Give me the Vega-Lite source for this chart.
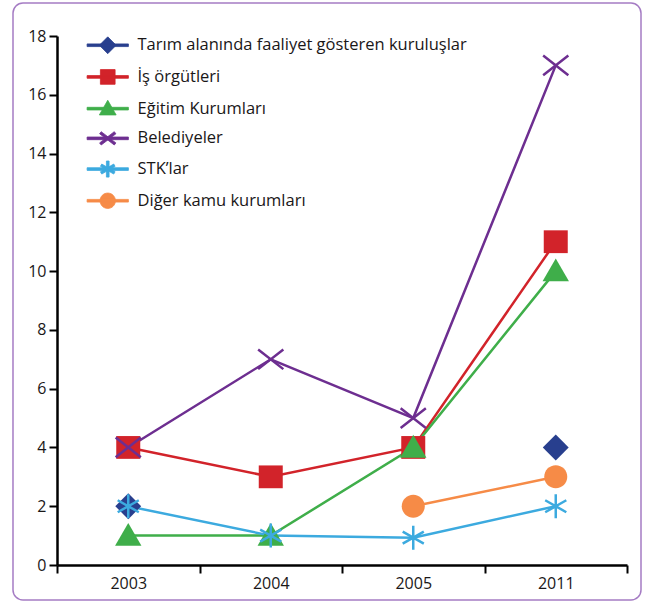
{
  "$schema": "https://vega.github.io/schema/vega-lite/v6.json",
  "width": 628,
  "height": 597,
  "autosize": "none",
  "padding": {"left": 13, "top": 3, "right": 9, "bottom": 3},
  "background": "white",
  "data": {
    "values": [
      {"series": "Tarım alanında faaliyet gösteren kuruluşlar", "year": "2003", "value": 2},
      {"series": "Tarım alanında faaliyet gösteren kuruluşlar", "year": "2004", "value": null},
      {"series": "Tarım alanında faaliyet gösteren kuruluşlar", "year": "2005", "value": null},
      {"series": "Tarım alanında faaliyet gösteren kuruluşlar", "year": "2011", "value": 4},
      {"series": "İş örgütleri", "year": "2003", "value": 4},
      {"series": "İş örgütleri", "year": "2004", "value": 3},
      {"series": "İş örgütleri", "year": "2005", "value": 4},
      {"series": "İş örgütleri", "year": "2011", "value": 11},
      {"series": "Eğitim Kurumları", "year": "2003", "value": 1},
      {"series": "Eğitim Kurumları", "year": "2004", "value": 1},
      {"series": "Eğitim Kurumları", "year": "2005", "value": 4},
      {"series": "Eğitim Kurumları", "year": "2011", "value": 10},
      {"series": "Belediyeler", "year": "2003", "value": 4},
      {"series": "Belediyeler", "year": "2004", "value": 7},
      {"series": "Belediyeler", "year": "2005", "value": 5},
      {"series": "Belediyeler", "year": "2011", "value": 17},
      {"series": "STK’lar", "year": "2003", "value": 2},
      {"series": "STK’lar", "year": "2004", "value": 1},
      {"series": "STK’lar", "year": "2005", "value": 0.93},
      {"series": "STK’lar", "year": "2011", "value": 2},
      {"series": "Diğer kamu kurumları", "year": "2005", "value": 2},
      {"series": "Diğer kamu kurumları", "year": "2011", "value": 3}
    ]
  },
  "encoding": {
    "x": {
      "field": "year",
      "type": "ordinal",
      "bandPosition": 0.5,
      "scale": {"type": "band", "domain": ["2003", "2004", "2005", "2011"], "range": [44, 614], "paddingInner": 0, "paddingOuter": 0},
      "axis": {
        "title": null, "labelAngle": 0, "tickBand": "extent", "offset": -35, "grid": false,
        "domainColor": "#000000", "domainWidth": 2.5, "tickColor": "#000000", "tickWidth": 2, "tickSize": 8,
        "labelPadding": 2, "labelFontSize": 16, "labelColor": "#1A1718", "labelFont": "Open Sans"
      }
    },
    "y": {
      "field": "value",
      "type": "quantitative",
      "scale": {"domain": [0, 18], "range": [562, 33], "nice": false},
      "axis": {
        "title": null, "values": [0, 2, 4, 6, 8, 10, 12, 14, 16, 18], "offset": -44, "grid": false,
        "domainColor": "#000000", "domainWidth": 2.5, "tickColor": "#000000", "tickWidth": 2, "tickSize": 8,
        "labelPadding": 3, "labelFontSize": 16, "labelColor": "#1A1718", "labelFont": "Open Sans"
      }
    },
    "color": {
      "field": "series",
      "type": "nominal",
      "scale": {
        "domain": ["Tarım alanında faaliyet gösteren kuruluşlar", "İş örgütleri", "Eğitim Kurumları", "Belediyeler", "STK’lar", "Diğer kamu kurumları"],
        "range": ["#283F8E", "#D2232A", "#3FAE4A", "#6D2E90", "#3CAADF", "#F68B47"]
      },
      "legend": {"title": null, "orient": "none", "legendX": 86.5, "legendY": 34}
    }
  },
  "layer": [
    {"mark": {"type": "line", "strokeWidth": 2.5}},
    {
      "transform": [{"filter": {"field": "series", "equal": "Tarım alanında faaliyet gösteren kuruluşlar"}}],
      "mark": {"type": "point", "filled": true, "opacity": 1, "size": 576, "strokeWidth": 0, "shape": "M0,-1.08L1.08,0L0,1.08L-1.08,0Z"}
    },
    {
      "transform": [{"filter": {"field": "series", "equal": "İş örgütleri"}}],
      "mark": {"type": "point", "filled": true, "opacity": 1, "size": 576, "strokeWidth": 0, "shape": "M-1,-0.95H1V0.95H-1Z"}
    },
    {
      "transform": [{"filter": {"field": "series", "equal": "Eğitim Kurumları"}}],
      "mark": {"type": "point", "filled": true, "opacity": 1, "size": 576, "strokeWidth": 0, "shape": "M0,-1.05L1.1,0.85H-1.1Z"}
    },
    {
      "transform": [{"filter": {"field": "series", "equal": "Belediyeler"}}],
      "mark": {"type": "point", "filled": false, "opacity": 1, "size": 576, "strokeWidth": 2.5, "shape": "M-1.05,-0.82L1.05,0.82M-1.05,0.82L1.05,-0.82"}
    },
    {
      "transform": [{"filter": {"field": "series", "equal": "STK’lar"}}],
      "mark": {"type": "point", "filled": false, "opacity": 1, "size": 576, "strokeWidth": 2.5, "shape": "M0,-1V1M-0.88,-0.5L0.88,0.5M-0.88,0.5L0.88,-0.5"}
    },
    {
      "transform": [{"filter": {"field": "series", "equal": "Diğer kamu kurumları"}}],
      "mark": {"type": "point", "filled": true, "opacity": 1, "size": 576, "strokeWidth": 0, "shape": "M0.96,0A0.96,0.96,0,1,1,-0.96,0A0.96,0.96,0,1,1,0.96,0Z"}
    },
    {
      "transform": [{"filter": "false"}],
      "mark": {"type": "point", "filled": true, "opacity": 1, "size": 196},
      "encoding": {
        "shape": {
          "field": "series",
          "type": "nominal",
          "scale": {
            "domain": ["Tarım alanında faaliyet gösteren kuruluşlar", "İş örgütleri", "Eğitim Kurumları", "Belediyeler", "STK’lar", "Diğer kamu kurumları"],
            "range": [
              "M-2.95,-0.19H2.95V0.19H-2.95ZM0,-1.2L1.2,0L0,1.2L-1.2,0Z",
              "M-2.95,-0.19H2.95V0.19H-2.95ZM-1.05,-1.05H1.05V1.05H-1.05Z",
              "M-2.95,-0.19H2.95V0.19H-2.95ZM0,-1.2L1.2,0.9H-1.2Z",
              "M-2.95,-0.19H2.95V0.19H-2.95ZM-0.935,-0.951L1.165,0.649L0.935,0.951L-1.165,-0.649ZM-1.165,0.649L0.935,-0.951L1.165,-0.649L-0.935,0.951Z",
              "M-2.95,-0.19H2.95V0.19H-2.95ZM-0.19,-1.15H0.19V1.15H-0.19ZM-0.855,-0.715L1.045,0.385L0.855,0.715L-1.045,-0.385ZM-1.045,0.385L0.855,-0.715L1.045,-0.385L-0.855,0.715Z",
              "M-2.95,-0.19H2.95V0.19H-2.95ZM1.1,0A1.1,1.1,0,1,1,-1.1,0A1.1,1.1,0,1,1,1.1,0Z"
            ]
          },
          "legend": {"title": null, "orient": "none", "legendX": 86.5, "legendY": 34}
        }
      }
    }
  ],
  "config": {
    "view": {"stroke": "#A57CC4", "strokeWidth": 1.5, "cornerRadius": 10},
    "font": "Open Sans",
    "legend": {
      "orient": "none", "legendX": 86.5, "legendY": 34, "padding": 0, "rowPadding": 11.7,
      "symbolSize": 196, "symbolStrokeWidth": 0.8, "symbolOpacity": 1, "labelFontSize": 16.5, "labelOffset": 21.5,
      "labelColor": "#1A1718", "labelFont": "Open Sans", "labelLimit": 500
    }
  }
}
